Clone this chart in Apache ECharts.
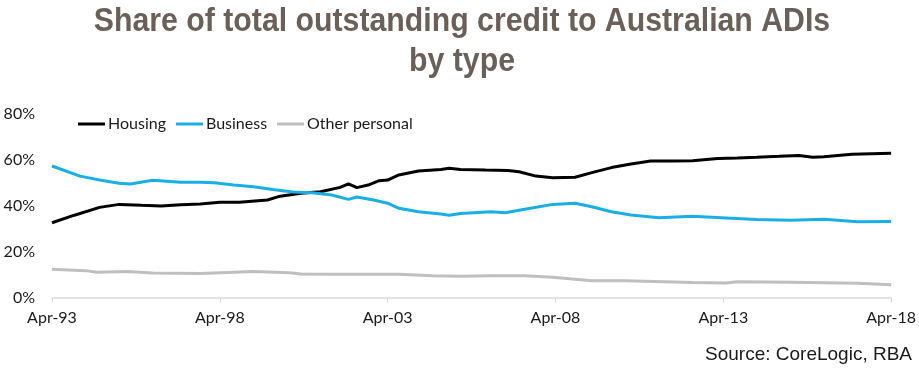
<!DOCTYPE html>
<html>
<head>
<meta charset="utf-8">
<script src="https://cdn.jsdelivr.net/npm/echarts@6/dist/echarts.min.js"></script>
<style>
html,body{margin:0;padding:0;background:#fff;}
#chart{width:919px;height:378px;}
</style>
</head>
<body>
<div id="chart"></div>
<script>
// x = months since Apr-93
const tickLabels = ["Apr-93","Apr-98","Apr-03","Apr-08","Apr-13","Apr-18"];
const housingMonths = [0,8,17,24,32,39,46,53,60,67,77,81,89,96,103,106,109,113,117,120,124,131,139,142,146,155,163,167,173,179,187,193,200,207,214,222,229,238,245,252,260,267,272,276,286,300];
const housingValues = [32.7,36.0,39.4,40.7,40.3,40.0,40.5,40.9,41.6,41.6,42.6,44.1,45.5,46.2,48.1,49.6,48.0,49.1,51.0,51.3,53.5,55.2,55.9,56.4,55.9,55.6,55.4,54.9,53.0,52.3,52.5,54.5,56.7,58.3,59.6,59.6,59.7,60.7,60.9,61.2,61.6,62.0,61.2,61.4,62.5,62.9];
const businessMonths = [0,10,17,24,28,36,46,53,58,65,72,79,86,93,100,106,109,115,120,124,131,139,142,146,157,162,169,179,187,193,200,207,217,229,241,252,264,276,288,300];
const businessValues = [57.4,53.0,51.3,49.9,49.6,51.2,50.3,50.3,50.1,49.1,48.4,47.2,46.1,45.8,44.8,42.9,43.9,42.6,41.2,39.0,37.5,36.5,36.0,36.7,37.5,37.1,38.6,40.7,41.2,39.7,37.5,36.1,34.9,35.5,34.8,34.1,33.8,34.2,33.2,33.3];
const otherMonths = [0,12,16,27,36,53,72,85,89,100,124,136,146,157,169,179,193,205,229,241,245,264,288,300];
const otherValues = [12.5,11.9,11.2,11.5,10.9,10.7,11.5,11.0,10.4,10.3,10.3,9.7,9.5,9.7,9.7,9.0,7.5,7.5,6.7,6.5,7.1,6.8,6.4,5.8];

const pairs = (xs, ys) => xs.map((x, i) => [x, ys[i]]);

const titleFont = 'bold 34px "Liberation Sans", Arial, sans-serif';
const chart = echarts.init(document.getElementById('chart'));
chart.setOption({
  animation: false,
  backgroundColor: '#ffffff',
  graphic: [{
    type: 'text',
    x: 462,
    y: 22,
    scaleX: 0.89,
    style: {
      text: 'Share of total outstanding credit to Australian ADIs',
      font: titleFont,
      fill: '#6b6058',
      align: 'center',
      verticalAlign: 'middle'
    }
  }, {
    type: 'text',
    x: 462,
    y: 62,
    scaleX: 0.89,
    style: {
      text: 'by type',
      font: titleFont,
      fill: '#6b6058',
      align: 'center',
      verticalAlign: 'middle'
    }
  }],
  title: [{
    text: 'Source: CoreLogic, RBA',
    right: 2,
    top: 340,
    textStyle: {
      fontFamily: '"Liberation Sans", Arial, sans-serif',
      fontWeight: 'normal',
      fontSize: 19,
      color: '#1a1a1a'
    }
  }],
  legend: {
    left: 73,
    top: 111,
    icon: 'rect',
    itemWidth: 27,
    itemHeight: 3,
    itemGap: 10,
    textStyle: { fontFamily: 'Lato, "Open Sans", sans-serif', fontSize: 16, color: '#1a1a1a', padding: [0, 0, 0, -2] },
    data: ['Housing', 'Business', 'Other personal']
  },
  grid: { left: 52, right: 27, top: 114, bottom: 80, containLabel: false },
  xAxis: {
    type: 'value',
    min: 0,
    max: 300,
    interval: 60,
    axisLine: { show: true, lineStyle: { color: '#d9d9d9', width: 1.5 } },
    axisTick: { show: true, length: 5, lineStyle: { color: '#d9d9d9' } },
    splitLine: { show: false },
    axisLabel: {
      margin: 12,
      fontFamily: 'Lato, "Open Sans", sans-serif',
      fontSize: 16,
      color: '#1a1a1a',
      formatter: v => tickLabels[Math.round(v / 60)]
    }
  },
  yAxis: {
    type: 'value',
    min: 0,
    max: 80,
    interval: 20,
    axisLine: { show: false },
    axisTick: { show: false },
    splitLine: { show: false },
    axisLabel: {
      margin: 17,
      fontFamily: 'Lato, "Open Sans", sans-serif',
      fontSize: 16,
      color: '#1a1a1a',
      formatter: '{value}%'
    }
  },
  series: [
    { name: 'Housing', type: 'line', data: pairs(housingMonths, housingValues), showSymbol: false, symbol: 'none',
      lineStyle: { color: '#000000', width: 3 }, itemStyle: { color: '#000000' } },
    { name: 'Business', type: 'line', data: pairs(businessMonths, businessValues), showSymbol: false, symbol: 'none',
      lineStyle: { color: '#1aaee6', width: 3 }, itemStyle: { color: '#1aaee6' } },
    { name: 'Other personal', type: 'line', data: pairs(otherMonths, otherValues), showSymbol: false, symbol: 'none',
      lineStyle: { color: '#bfbfbf', width: 3 }, itemStyle: { color: '#bfbfbf' } }
  ]
});
</script>
</body>
</html>
